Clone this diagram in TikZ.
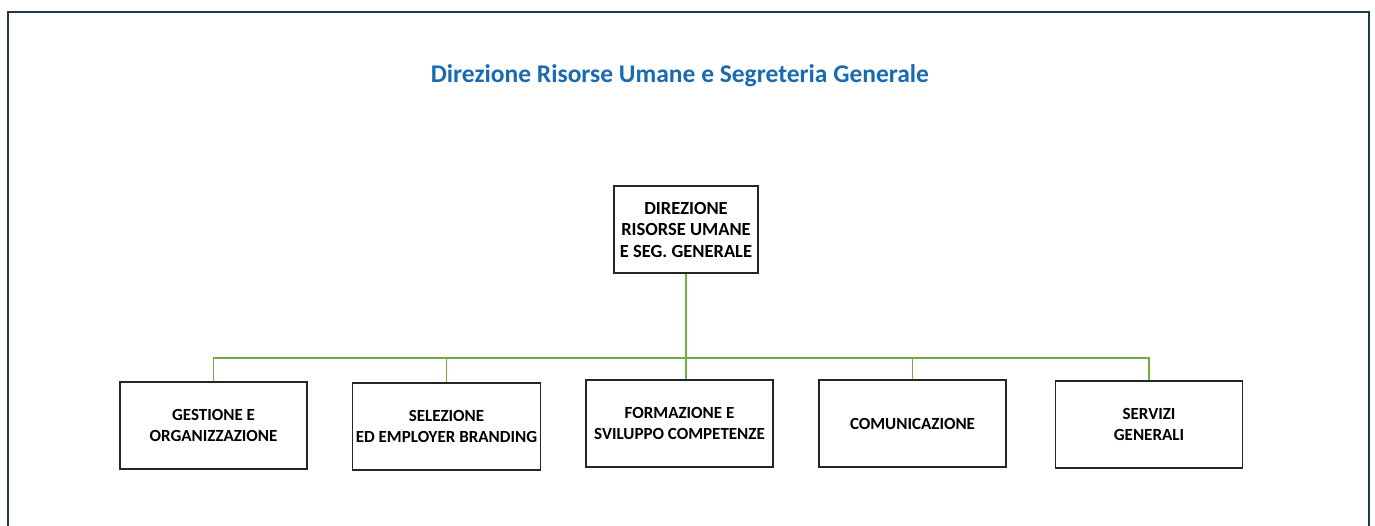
\documentclass[tikz,border=0pt]{standalone}
\usepackage{fontspec}
\setmainfont{Carlito}
\definecolor{framecol}{RGB}{31,56,74}
\definecolor{titlecol}{RGB}{25,106,176}
\definecolor{linkgreen}{RGB}{112,173,71}
\begin{document}
\begin{tikzpicture}[x=1pt, y=-1pt,
		unit/.style={draw=black!85, line width=1.4pt, minimum width=187pt,
			minimum height=87pt, align=center, font=\fontsize{17}{20.5}\selectfont\bfseries},
		link/.style={linkgreen, line width=1.3pt}]
		\useasboundingbox (0, 0) rectangle (1375, 525);
		\draw[framecol, line width=2.2pt] (8, 526) -- (8, 12) -- (1369, 12) -- (1369, 526);
		\node[titlecol, font=\fontsize{25.5}{30}\selectfont\bfseries] (title) at (680, 76)
			{Direzione Risorse Umane e Segreteria Generale};
		\node[unit, minimum width=144pt, inner sep=2pt,
			font=\fontsize{18.5}{21.5}\selectfont\bfseries] (dir) at (686, 229.5)
			{DIREZIONE\\RISORSE UMANE\\E SEG. GENERALE};
		\node[unit] (gest) at (213.5, 425.5) {GESTIONE E\\ORGANIZZAZIONE};
		\node[unit] (sel) at (446.5, 426.5) {SELEZIONE\\ED EMPLOYER BRANDING};
		\node[unit] (form) at (679.5, 423.5) {FORMAZIONE E\\SVILUPPO COMPETENZE};
		\node[unit] (com) at (912.5, 423.5) {COMUNICAZIONE};
		\node[unit] (serv) at (1149, 424.5) {SERVIZI\\GENERALI};
		\coordinate (bus) at (686, 358);
		\draw[link] (dir.south) -- (dir.south |- form.north);
		\draw[link] (gest.north) |- (bus) -| (serv.north);
		\draw[link] (sel.north) |- (bus);
		\draw[link] (com.north) |- (bus);
	\end{tikzpicture}
\end{document}
